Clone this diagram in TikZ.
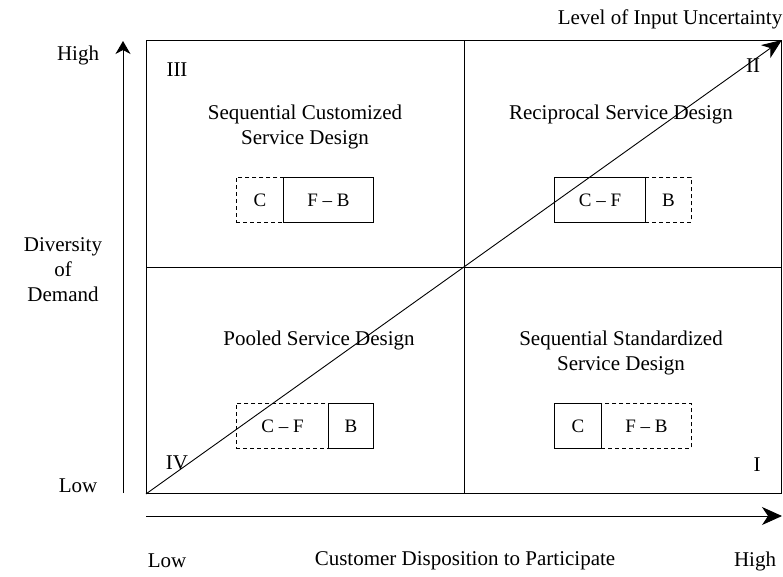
\documentclass[tikz,border=0pt]{standalone}
\usepackage{fontspec}
\setmainfont{Liberation Serif}
\usetikzlibrary{arrows.meta}
\begin{document}
\begin{tikzpicture}[x=1pt,y=-1pt,
  quad/.style={draw,line width=0.9pt,minimum width=318pt,minimum height=226.5pt,inner sep=0pt,anchor=north west},
  solidbox/.style={draw,line width=0.9pt,minimum height=45pt,inner sep=0pt,anchor=north west,font=\fontsize{19}{24}\selectfont},
  dashbox/.style={solidbox,dashed,dash pattern=on 4pt off 3pt},
  lbl/.style={font=\fontsize{21}{25}\selectfont,align=center,inner sep=0pt},
  varr/.style={line width=0.9pt,-{Stealth[length=13pt,width=15pt,inset=4pt]}},
  harr/.style={line width=0.9pt,-{Stealth[length=20pt,width=18pt,inset=6pt]}},
  darr/.style={line width=0.9pt,-{Stealth[length=20pt,width=16pt,inset=6pt]}}]
\useasboundingbox (0,0) rectangle (783,576);
% quadrants
\node[quad] (q3) at (146,40) {};
\node[quad,minimum width=317pt] (q2) at (464,40) {};
\node[quad,minimum height=226.5pt] (q4) at (146,266.5) {};
\node[quad,minimum width=317pt] (q1) at (464,266.5) {};
% axes
\coordinate (vb) at (123,493);
\coordinate (vt) at (123,41);
\draw[varr] (vb) -- (vt);
\coordinate (hl) at (146,516);
\coordinate (hr) at (782,516);
\draw[harr] (hl) -- (hr);
% diagonal
\draw[darr] (q4.south west) -- (q2.north east);
% quadrant titles
\node[lbl] (t3) at (305,127) {Sequential Customized\\Service Design};
\node[lbl] (t2) at (621,114) {Reciprocal Service Design};
\node[lbl] (t4) at (319,340) {Pooled Service Design};
\node[lbl] (t1) at (621,353) {Sequential Standardized\\Service Design};
% roman numerals
\node[lbl] (r3) at (177,70) {III};
\node[lbl] (r2) at (753,66) {II};
\node[lbl] (r4) at (177,463) {IV};
\node[lbl] (r1) at (757,465) {I};
% boxes top-left
\node[dashbox,minimum width=47pt] (a1) at (236,177) {C};
\node[solidbox,minimum width=90pt] (a2) at (283,177) {F -- B};
% top-right
\node[solidbox,minimum width=91pt] (b1) at (554,177) {C -- F};
\node[dashbox,minimum width=46pt] (b2) at (645,177) {B};
% bottom-left
\node[dashbox,minimum width=92pt] (c1) at (236,403) {C -- F};
\node[solidbox,minimum width=45pt] (c2) at (328,403) {B};
% bottom-right
\node[solidbox,minimum width=47pt] (d1) at (554,403) {C};
\node[dashbox,minimum width=90pt] (d2) at (601,403) {F -- B};
% axis labels
\node[lbl] (hi) at (78,55) {High};
\node[lbl] (lo) at (78,486) {Low};
\node[lbl] (dd) at (63,270) {Diversity\\of\\Demand};
\node[lbl] (lu) at (670,19) {Level of Input Uncertainty};
\node[lbl] (xl) at (167,561) {Low};
\node[lbl] (xc) at (465,561) {Customer Disposition to Participate};
\node[lbl] (xh) at (755,561) {High};
\end{tikzpicture}
\end{document}
